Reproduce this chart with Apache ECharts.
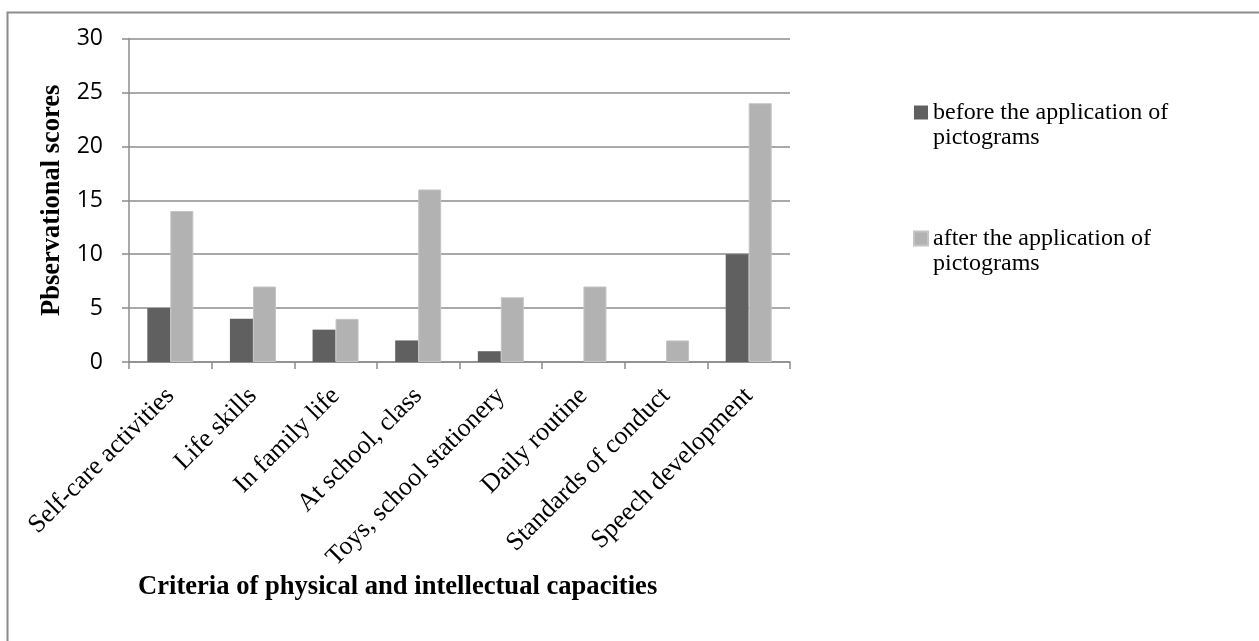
<!DOCTYPE html>
<html>
<head>
<meta charset="utf-8">
<title>Observational scores before and after pictograms</title>
<script src="https://cdn.jsdelivr.net/npm/echarts@6/dist/echarts.min.js"></script>
<style>
  html, body { margin: 0; padding: 0; background: #fff; }
  #chart { width: 1259px; height: 641px; }
</style>
</head>
<body>
<div id="chart"></div>
<script>
// Criteria on the horizontal axis
const categories = [
  'Self-care activities',
  'Life skills',
  'In family life',
  'At school, class',
  'Toys, school stationery',
  'Daily routine',
  'Standards of conduct',
  'Speech development'
];

// Scores per criterion
const beforeScores = [5, 4, 3, 2, 1, 0, 0, 10];
const afterScores = [14, 7, 4, 16, 6, 7, 2, 24];

const seriesNames = [
  'before the application of\npictograms',
  'after the application of\npictograms'
];

const yTicks = { min: 0, max: 30, interval: 5 };

const serif = '"Liberation Serif", "Times New Roman", serif';
const sans = '"Open Sans", "Liberation Sans", sans-serif';
const lineGray = '#8c8c8c';

const chart = echarts.init(document.getElementById('chart'), null, { renderer: 'canvas' });

chart.setOption({
  animation: false,
  backgroundColor: '#ffffff',
  title: {
    text: 'Criteria of physical and intellectual capacities',
    left: 138,
    top: 574,
    padding: 0,
    textStyle: { fontFamily: serif, fontSize: 26.6, fontWeight: 'bold', color: '#000' }
  },
  legend: {
    orient: 'vertical',
    left: 913,
    top: 75,
    padding: 0,
    itemGap: 51,
    itemWidth: 14,
    itemHeight: 14,
    icon: 'rect',
    data: seriesNames,
    // leading blank line keeps the first text line level with the swatch
    formatter: name => '\n' + name,
    textStyle: {
      fontFamily: serif,
      fontSize: 24,
      color: '#000',
      lineHeight: 25
    }
  },
  grid: {
    left: 129,
    top: 38.5,
    right: 469,
    bottom: 279,
    containLabel: false
  },
  xAxis: {
    type: 'category',
    data: categories,
    boundaryGap: true,
    axisLine: { show: true, lineStyle: { color: lineGray, width: 1.5 } },
    axisTick: { show: true, length: 7, alignWithLabel: false, lineStyle: { color: lineGray, width: 1.5 } },
    axisLabel: {
      interval: 0,
      rotate: 45,
      margin: 30,
      fontFamily: serif,
      fontSize: 26,
      color: '#000'
    }
  },
  yAxis: {
    type: 'value',
    min: yTicks.min,
    max: yTicks.max,
    interval: yTicks.interval,
    name: 'Pbservational scores',
    nameLocation: 'middle',
    nameRotate: 90,
    nameGap: 62,
    nameTextStyle: { fontFamily: serif, fontSize: 26.5, fontWeight: 'bold', color: '#000' },
    axisLine: { show: true, lineStyle: { color: lineGray, width: 1.5 } },
    axisTick: { show: true, inside: false, length: 7, lineStyle: { color: lineGray, width: 1.5 } },
    axisLabel: { margin: 26, fontFamily: sans, fontSize: 23, color: '#000' },
    splitLine: { show: true, lineStyle: { color: lineGray, width: 1.5 } }
  },
  series: [
    {
      name: seriesNames[0],
      type: 'bar',
      data: beforeScores,
      barWidth: 23,
      barGap: '0%',
      itemStyle: { color: '#606060' }
    },
    {
      name: seriesNames[1],
      type: 'bar',
      data: afterScores,
      barWidth: 23,
      barGap: '0%',
      itemStyle: { color: '#b2b2b2', borderColor: '#c4c4c4', borderWidth: 1 }
    }
  ],
  graphic: [
    {
      type: 'rect',
      left: 5,
      top: 10,
      shape: { width: 1400, height: 800 },
      style: { fill: 'none', stroke: '#8c8c8c', lineWidth: 2 },
      silent: true
    }
  ]
});
</script>
</body>
</html>
